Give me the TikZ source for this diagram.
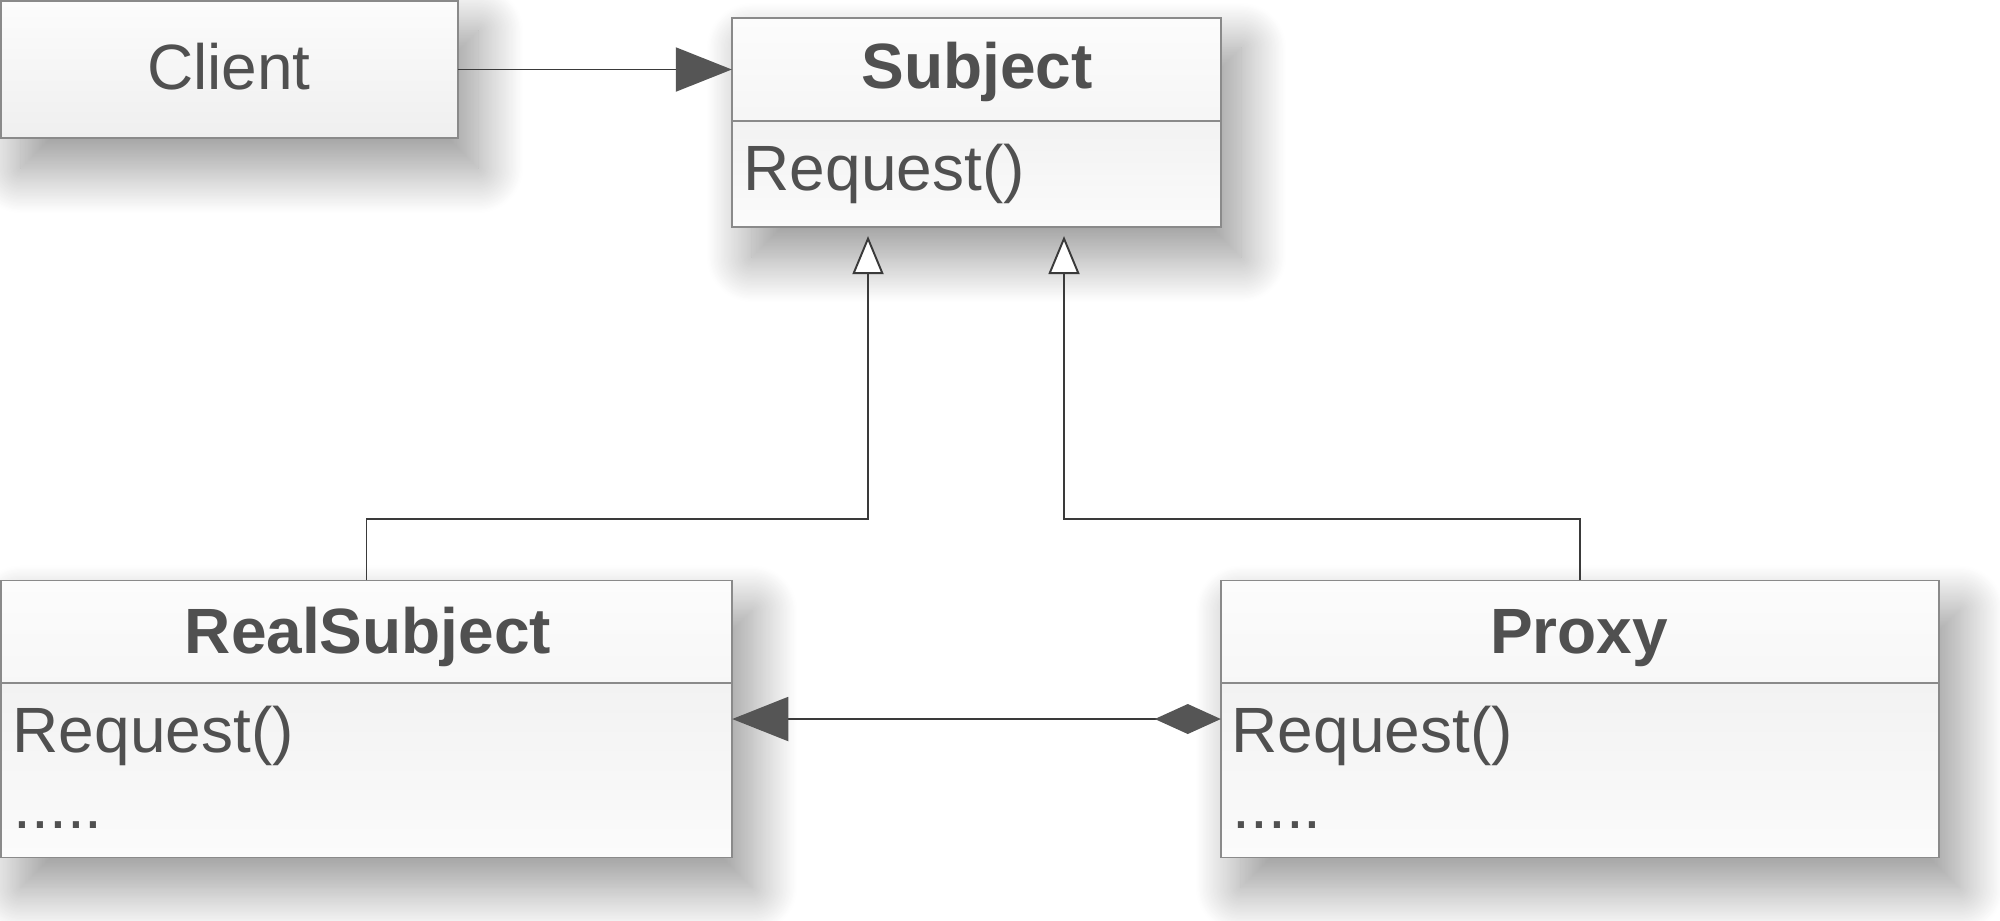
\documentclass[tikz,border=0pt]{standalone}
\usepackage{fontspec}
\setmainfont{Liberation Sans}
\usetikzlibrary{arrows.meta,shadows.blur}

\definecolor{inkgray}{HTML}{505050}
\definecolor{edgegray}{HTML}{8A8A8A}
\definecolor{linegray}{HTML}{3A3A3A}
\definecolor{tipgray}{HTML}{555555}
\definecolor{headtop}{HTML}{FCFCFC}
\definecolor{headbot}{HTML}{EFEFEF}
\definecolor{bodytop}{HTML}{F2F2F2}
\definecolor{bodybot}{HTML}{FBFBFB}

\tikzset{
  classbox/.style={rectangle, draw=edgegray, line width=0.45pt, outer sep=0pt, inner sep=0pt,
    top color=headtop, bottom color=headbot,
    blur shadow={shadow xshift=0.2cm, shadow yshift=-0.3cm,
                 shadow blur radius=0.45cm, shadow blur steps=40,
                 shadow opacity=42}},
  bodypart/.style={top color=bodytop, bottom color=bodybot},
  boxedge/.style={draw=edgegray, line width=0.45pt},
  classname/.style={font=\fontsize{18.2}{22}\selectfont\bfseries, text=inkgray,
    anchor=base, inner sep=0pt},
  opname/.style={font=\fontsize{18.2}{22}\selectfont, text=inkgray,
    anchor=base west, inner sep=0pt},
  wire/.style={draw=linegray, line width=0.55pt},
  navarrow/.style={wire, -{Triangle[length=0.56cm, width=0.44cm, fill=tipgray, color=tipgray]}},
  inherit/.style={wire, shorten >=0.09cm,
    -{Triangle[length=0.38cm, width=0.31cm, fill=white, color=linegray]}},
  composite/.style={wire,
    {Diamond[length=0.66cm, width=0.30cm, fill=tipgray, color=tipgray]}-{Triangle[length=0.56cm, width=0.44cm, fill=tipgray, color=tipgray]}},
}

\begin{document}
\begin{tikzpicture}[x=0.01cm, y=-0.01cm]
\useasboundingbox (0,0) rectangle (2000,920);

% class boxes
\node[classbox, minimum width=4.57cm, minimum height=1.37cm] (client) at (229.5,69.5) {};
\node[classbox, minimum width=4.89cm, minimum height=2.09cm] (subject) at (976.5,122.5) {};
\node[classbox, minimum width=7.31cm, minimum height=2.77cm] (real) at (366.5,719) {};
\node[classbox, minimum width=7.18cm, minimum height=2.77cm] (proxy) at (1580,719) {};

% compartment dividers
\coordinate (subjdiv) at (0,121);
\coordinate (lowdiv) at (0,683);
\path[bodypart] (subject.west |- subjdiv) rectangle (subject.south east);
\draw[boxedge] (subject.west |- subjdiv) -- (subject.east |- subjdiv);
\draw[boxedge] (subject.south west) rectangle (subject.north east);
\path[bodypart] (real.west |- lowdiv) rectangle (real.south east);
\draw[boxedge] (real.west |- lowdiv) -- (real.east |- lowdiv);
\draw[boxedge] (real.south west) rectangle (real.north east);
\path[bodypart] (proxy.west |- lowdiv) rectangle (proxy.south east);
\draw[boxedge] (proxy.west |- lowdiv) -- (proxy.east |- lowdiv);
\draw[boxedge] (proxy.south west) rectangle (proxy.north east);

% texts
\node[opname, anchor=base] (clientname) at (229,89) {Client};
\node[classname] (subjectname) at (977,88) {Subject};
\node[opname] (subjectop) at (743,190) {Request()};
\node[classname] (realname) at (368,653) {RealSubject};
\node[opname] (realop) at (12,752) {Request()};
\node[opname] (realmore) at (13,828) {.....};
\node[classname] (proxyname) at (1579,653) {Proxy};
\node[opname] (proxyop) at (1231,752) {Request()};
\node[opname] (proxymore) at (1232,828) {.....};

% connectors
\draw[navarrow] (client.east) -- (client.east -| subject.west);
\coordinate (lbend) at (868,519);
\coordinate (rbend) at (1064,519);
\draw[inherit] (real.north) |- (lbend) -- (lbend |- subject.south);
\draw[inherit] (proxy.north) |- (rbend) -- (rbend |- subject.south);
\draw[composite] (proxy.west) -- (proxy.west -| real.east);
\end{tikzpicture}
\end{document}
